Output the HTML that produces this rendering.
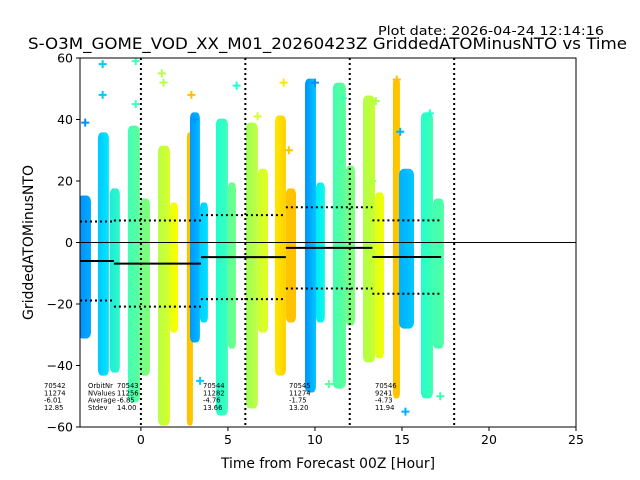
<!DOCTYPE html>
<html><head><meta charset="utf-8"><style>
html,body{margin:0;padding:0;background:#fff;}
svg{display:block;font-family:"DejaVu Sans","Liberation Sans",sans-serif;}
</style></head><body>
<svg id="chart" width="640" height="480" viewBox="0 0 640 480" xmlns="http://www.w3.org/2000/svg">
<text x="378" y="35" font-size="12.5" textLength="226" lengthAdjust="spacingAndGlyphs">Plot date: 2026-04-24 12:14:16</text>
<text x="28" y="49" font-size="16" textLength="599" lengthAdjust="spacingAndGlyphs">S-O3M_GOME_VOD_XX_M01_20260423Z GriddedATOMinusNTO vs Time</text>
<text x="221" y="468" font-size="14" textLength="214" lengthAdjust="spacingAndGlyphs">Time from Forecast 00Z [Hour]</text>
<text transform="translate(33,320) rotate(-90)" font-size="14" textLength="155" lengthAdjust="spacingAndGlyphs">GriddedATOMinusNTO</text>
<defs><clipPath id="clip"><rect x="80" y="58" width="496" height="369"/></clipPath></defs>
<g id="bands" clip-path="url(#clip)"></g>
<g id="lines"></g>
<g id="axes"></g>
</svg>
<script>
// ---- data ----
const bandX0 = [-3.62,-2.47,-1.78,-0.75,-0.06,0.98,1.67,2.64,2.82,3.39,4.31,5.0,6.03,6.72,7.70,8.33,9.43,10.06,11.03,11.78,12.76,13.45,14.48,14.83,16.09,16.78];
const bandX1 = [-2.87,-1.84,-1.21,-0.06,0.52,1.67,2.13,2.99,3.39,3.85,5.0,5.46,6.72,7.30,8.33,8.91,10.06,10.57,11.78,12.30,13.45,13.97,14.89,15.69,16.78,17.41];
const bandMax = [15.3,35.8,17.6,38,14.3,31.5,13,35.8,42.3,13,40.3,19.5,39,24,41.3,17.6,53.3,19.5,52,25,47.8,16.3,53.3,24,42.3,14.3];
const bandMin = [-31.2,-43.3,-42.3,-52,-43.3,-59.5,-29.3,-59.5,-32.5,-26,-56.3,-34.5,-54,-29.3,-43.3,-26,-48.8,-26,-47.5,-27,-39,-37.7,-50.7,-28,-50.7,-34.5];
const bandC0 = ['#0090ff','#00c8ff','#20ecd8','#40ffb8','#70ff88','#b8ff48','#e8ff10','#ffc000','#0098ff','#00d0ff','#20ffd0','#60ff98','#a0ff58','#d0ff30','#ffe800','#ffc400','#0090ff','#00e8f8','#40ffb0','#70ff88','#b0ff48','#e0ff18','#ffc000','#00b0ff','#20ffd0','#40ffb0'];
const bandC1 = ['#00a8ff','#00e8ff','#30f8c8','#60ff98','#80ff78','#d8ff28','#f8ff00','#ffc800','#00b8ff','#00e0ff','#40ffb8','#70ff88','#c0ff40','#e0ff20','#ffd000','#ffc000','#00c8ff','#10f8e8','#60ff98','#80ff78','#c8ff30','#f0ff08','#ffc800','#00c8ff','#40ffb0','#50ffa8'];
const outX = [-3.2,-2.2,-2.2,-0.3,-0.3,1.2,1.3,2.9,3.1,3.4,5.5,6.7,8.2,8.5,10,10.8,11.6,13.3,13.5,14.7,14.9,15.2,16.6,17.2];
const outY = [39,58,48,59,45,55,52,48,40,-45,51,41,52,30,52,-46,47,20,46,53,36,-55,42,-50];
const outC = ['#0090ff','#00c8ff','#00c8ff','#40ffb8','#40ffb8','#b8ff48','#b8ff48','#ffc000','#0098ff','#00d0ff','#20ffd0','#d0ff30','#ffe800','#ffc400','#0090ff','#60ff98','#40ffb0','#b0ff48','#b0ff48','#ffc000','#00b0ff','#00b0ff','#20ffd0','#40ffb0'];
const orbitStart = [-3.5,-1.55,3.45,8.33,13.3];
const orbitEnd = [-1.55,3.45,8.33,13.3,17.25];
const orbitNr = ['70542','70543','70544','70545','70546'];
const orbitN = ['11274','11256','11282','11274','9241'];
const orbitMean = [-6.01,-6.85,-4.76,-1.75,-4.73];
const orbitStd = [12.85,14.00,13.66,13.20,11.94];
const orbitTextX = [44,117,203,289,375];
const xTicks = [0,5,10,15,20,25];
const yTicks = [60,40,20,0,-20,-40,-60];
const vLines = [0,6,12,18];
// ---- scales ----
const X0=80,X1=576,Y0=58,Y1=427;
const xMin=-3.5,xMax=25,yMin=-60,yMax=60;
const sx=v=>X0+(v-xMin)/(xMax-xMin)*(X1-X0);
const sy=v=>Y1-(v-yMin)/(yMax-yMin)*(Y1-Y0);
const NS='http://www.w3.org/2000/svg';
const svg=document.getElementById('chart');
function mk(tag,attrs,parent){const e=document.createElementNS(NS,tag);for(const k in attrs)e.setAttribute(k,attrs[k]);parent.appendChild(e);return e;}
const defs=svg.querySelector('defs');
const gB=document.getElementById('bands');
bandX0.forEach((x0,i)=>{
  const g=mk('linearGradient',{id:'g'+i,x1:'0',x2:'1',y1:'0',y2:'0'},defs);
  mk('stop',{offset:'0','stop-color':bandC0[i]},g);
  mk('stop',{offset:'1','stop-color':bandC1[i]},g);
  const w=sx(bandX1[i])-sx(x0);
  const r=mk('rect',{x:sx(x0),y:sy(bandMax[i]),width:w,height:sy(bandMin[i])-sy(bandMax[i]),rx:w/3,ry:6,fill:'url(#g'+i+')'},gB);
  
  
});
outX.forEach((x,i)=>{
  const p=mk('path',{d:`M${sx(x)-4},${sy(outY[i])}h8M${sx(x)},${sy(outY[i])-4}v8`,stroke:outC[i],'stroke-width':2},gB);
  
  
});
const gL=document.getElementById('lines');
const z=mk('line',{x1:X0,x2:X1,y1:sy(0),y2:sy(0),stroke:'#000','stroke-width':1},gL);


vLines.forEach(v=>{
  const l=mk('line',{x1:sx(v),x2:sx(v),y1:Y0,y2:Y1,stroke:'#000','stroke-width':2,'stroke-dasharray':'2,3'},gL);
  
  
});
orbitStart.forEach((s,i)=>{
  const e=orbitEnd[i];
  const m=mk('line',{x1:sx(s),x2:sx(e),y1:sy(orbitMean[i]),y2:sy(orbitMean[i]),stroke:'#000','stroke-width':2},gL);
  
  
  [orbitMean[i]+orbitStd[i],orbitMean[i]-orbitStd[i]].forEach(v=>{
    const d=mk('line',{x1:sx(s),x2:sx(e),y1:sy(v),y2:sy(v),stroke:'#000','stroke-width':2,'stroke-dasharray':'2,3'},gL);
    
    
  });
  const vals=[orbitNr[i],orbitN[i],orbitMean[i].toFixed(2),orbitStd[i].toFixed(2)];
  vals.forEach((t,k)=>{
    const tx=mk('text',{x:orbitTextX[i],y:388+k*7.3,'font-size':6.8,fill:'#000'},gL);
    tx.textContent=t;
    
    
  });
});
['OrbitNr','NValues','Average','Stdev'].forEach((t,k)=>{
  const tx=mk('text',{x:88,y:388+k*7.3,'font-size':6.8,fill:'#000'},gL);
  tx.textContent=t;
  
  
});
const gA=document.getElementById('axes');
const fr=mk('rect',{x:X0,y:Y0,width:X1-X0,height:Y1-Y0,fill:'none',stroke:'#000','stroke-width':1},gA);


xTicks.forEach(v=>{
  mk('line',{x1:sx(v),x2:sx(v),y1:Y1,y2:Y1+4,stroke:'#000'},gA);
  const t=mk('text',{x:sx(v),y:Y1+17,'font-size':12.5,'text-anchor':'middle'},gA);
  t.textContent=v;
  
  
});
yTicks.forEach(v=>{
  mk('line',{x1:X0-4,x2:X0,y1:sy(v),y2:sy(v),stroke:'#000'},gA);
  const t=mk('text',{x:X0-7,y:sy(v)+4.5,'font-size':12.5,'text-anchor':'end'},gA);
  t.textContent=v<0?'\u2212'+(-v):v;
  
  
});
</script>
</body></html>
